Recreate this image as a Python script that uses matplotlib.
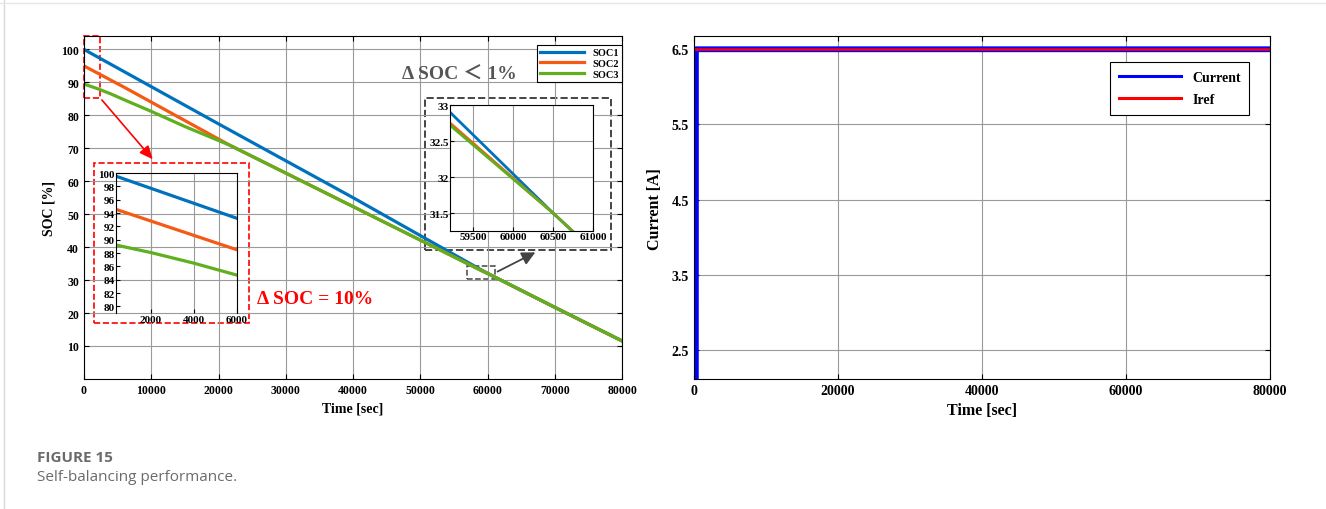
import matplotlib
matplotlib.use("Agg")
import matplotlib.pyplot as plt
from matplotlib.patches import Rectangle
from matplotlib.lines import Line2D

# SOC curves (time in s, SOC in %)
t_soc1 = [0, 20000, 40000, 59210, 60500, 70000, 80000]
soc1 = [100, 77.4, 55.0, 32.9, 31.5, 21.7, 11.5]
t_soc2 = [0, 6000, 21600, 40000, 59210, 60500, 70000, 80000]
soc2 = [95, 88.5, 71.0, 52.3, 32.75, 31.5, 21.7, 11.5]
t_soc3 = [0, 2000, 4000, 6000, 10000, 15000, 21600, 40000, 59210, 60500, 70000, 80000]
soc3 = [89.5, 88.1, 86.5, 84.7, 81.2, 76.6, 71.0, 52.3, 32.72, 31.5, 21.7, 11.5]

# current
t_cur = [250, 260, 80000]
current = [2.0, 6.497, 6.497]
t_ref = [0, 80000]
iref = [6.5, 6.5]

soc_labels = ["SOC1", "SOC2", "SOC3"]
soc_colors = ["#0072BD", "#F55A14", "#5FAF1E"]

serif = "Liberation Serif"
grid_kw = dict(color="#9a9a9a", linewidth=0.8)

fig = plt.figure(figsize=(13.26, 5.1), dpi=100)

# ---------- left: SOC ----------
ax = fig.add_axes([0.0633, 0.255, 0.406, 0.672])
series = [(t_soc1, soc1), (t_soc2, soc2), (t_soc3, soc3)]
for (t, s), lab, c in zip(series, soc_labels, soc_colors):
    ax.plot(t, s, color=c, lw=2.3, label=lab)
ax.set_xlim(0, 80000)
ax.set_ylim(0, 104)
ax.set_xticks(range(0, 80001, 10000))
ax.set_yticks(range(10, 101, 10))
ax.grid(True, **grid_kw)
ax.tick_params(direction="in", top=True, right=True, labelsize=8.5)
for lbl in ax.get_xticklabels() + ax.get_yticklabels():
    lbl.set_fontfamily(serif)
    lbl.set_fontweight("bold")
ax.set_xlabel("Time [sec]", fontfamily=serif, fontweight="bold", fontsize=10, labelpad=4)
ax.set_ylabel("SOC [%]", fontfamily=serif, fontweight="bold", fontsize=10, labelpad=4)
leg = ax.legend(loc="upper right", bbox_to_anchor=(1.0, 0.975), borderaxespad=0,
                prop=dict(family=serif, weight="bold", size=7.5), fancybox=False,
                edgecolor="black", framealpha=1, handlelength=4.2, labelspacing=0.15,
                borderpad=0.3)
leg.get_frame().set_linewidth(0.8)

# zoom box markers
ax.add_patch(Rectangle((0, 85.3), 2400, 18.7, fill=False, ec="red", ls="--", lw=1.2, clip_on=False))
ax.add_patch(Rectangle((1480, 17.0), 23080, 48.5, fill=False, ec="red", ls="--", lw=1.2, clip_on=False))
ax.annotate("", xy=(10500, 66), xytext=(2400, 85.3),
            arrowprops=dict(arrowstyle="-|>,head_length=0.8,head_width=0.35", color="red", lw=1.2))
ax.text(25700, 24.5, "Δ SOC = 10%", color="red", fontfamily=serif, fontweight="bold",
        fontsize=14, va="center", ha="left")

ax.add_patch(Rectangle((56950, 30.3), 4150, 3.9, fill=False, ec="#444444", ls="--", lw=1.1))
ax.add_patch(Rectangle((50740, 39.1), 27510, 46.1, fill=False, ec="#444444", ls="--", lw=1.4))
ax.annotate("", xy=(67450, 38.8), xytext=(61100, 32.2),
            arrowprops=dict(arrowstyle="-|>,head_length=0.8,head_width=0.4", color="#444444", lw=1.3))
ax.text(47300, 92.6, "Δ SOC ＜ 1%", color="#555555", family=[serif, "Noto Sans CJK SC"],
        fontweight="bold", fontsize=14, va="center", ha="left")

# inset 1 (start)
ia = fig.add_axes([0.0875, 0.384, 0.0913, 0.2745])
ia.patch.set_alpha(0)
for (t, s), c in zip(series, soc_colors):
    ia.plot(t, s, color=c, lw=2.3)
ia.set_xlim(400, 6000)
ia.set_ylim(79, 100)
ia.set_xticks([2000, 4000, 6000])
ia.set_yticks(range(80, 101, 2))
ia.grid(True, axis="x", **grid_kw)
ia.spines["bottom"].set_visible(False)
ia.tick_params(direction="in", labelsize=8, pad=1, length=3)
for lbl in ia.get_xticklabels() + ia.get_yticklabels():
    lbl.set_fontfamily(serif)
    lbl.set_fontweight("bold")

# inset 2 (convergence)
ib = fig.add_axes([0.3394, 0.545, 0.1078, 0.247])
for (t, s), c in zip(series, soc_colors):
    ib.plot(t, s, color=c, lw=2.0)
ib.set_xlim(59210, 61000)
ib.set_ylim(31.25, 33)
ib.set_xticks([59500, 60000, 60500, 61000])
ib.set_yticks([31.5, 32, 32.5, 33])
ib.set_yticklabels(["31.5", "32", "32.5", "33"])
ib.grid(True, **grid_kw)
ib.tick_params(direction="in", labelsize=8, pad=1, length=3)
for lbl in ib.get_xticklabels() + ib.get_yticklabels():
    lbl.set_fontfamily(serif)
    lbl.set_fontweight("bold")

# ---------- right: current ----------
ax2 = fig.add_axes([0.5234, 0.255, 0.4344, 0.672])
ax2.plot(t_cur, current, color="#0000FF", lw=4.2, label="Current")
ax2.plot(t_ref, iref, color="#FF0000", lw=1.8, label="Iref")
ax2.set_xlim(0, 80000)
ax2.set_ylim(2.12, 6.67)
ax2.set_xticks(range(0, 80001, 20000))
ax2.set_yticks([2.5, 3.5, 4.5, 5.5, 6.5])
ax2.grid(True, **grid_kw)
ax2.tick_params(direction="in", top=True, right=True, labelsize=10)
for lbl in ax2.get_xticklabels() + ax2.get_yticklabels():
    lbl.set_fontfamily(serif)
    lbl.set_fontweight("bold")
ax2.set_xlabel("Time [sec]", fontfamily=serif, fontweight="bold", fontsize=11.5, labelpad=4)
ax2.set_ylabel("Current [A]", fontfamily=serif, fontweight="bold", fontsize=11.5, labelpad=6)
leg2 = ax2.legend(loc="upper right", bbox_to_anchor=(0.964, 0.924), borderaxespad=0,
                  prop=dict(family=serif, weight="bold", size=10), fancybox=False,
                  edgecolor="black", framealpha=1, handlelength=4.5, labelspacing=0.7,
                  borderpad=0.6)
leg2.get_frame().set_linewidth(0.8)
for h in leg2.get_lines():
    h.set_linewidth(2.2)

# caption and page frame
fig.text(0.028, 1 - 458 / 510, "FIGURE 15", fontfamily="Open Sans", fontweight="bold",
         fontsize=11, color="#6b6b6b", va="center")
fig.text(0.028, 1 - 478 / 510, "Self-balancing performance.", fontfamily="Open Sans",
         fontsize=11, color="#6b6b6b", va="center")
fig.add_artist(Line2D([0.003, 0.003], [0, 1], transform=fig.transFigure, color="#d8d8d8", lw=1))
fig.add_artist(Line2D([0, 1], [0.992, 0.992], transform=fig.transFigure, color="#e6e6e6", lw=1))

fig.savefig("out.png", dpi=100)
plt.close()
